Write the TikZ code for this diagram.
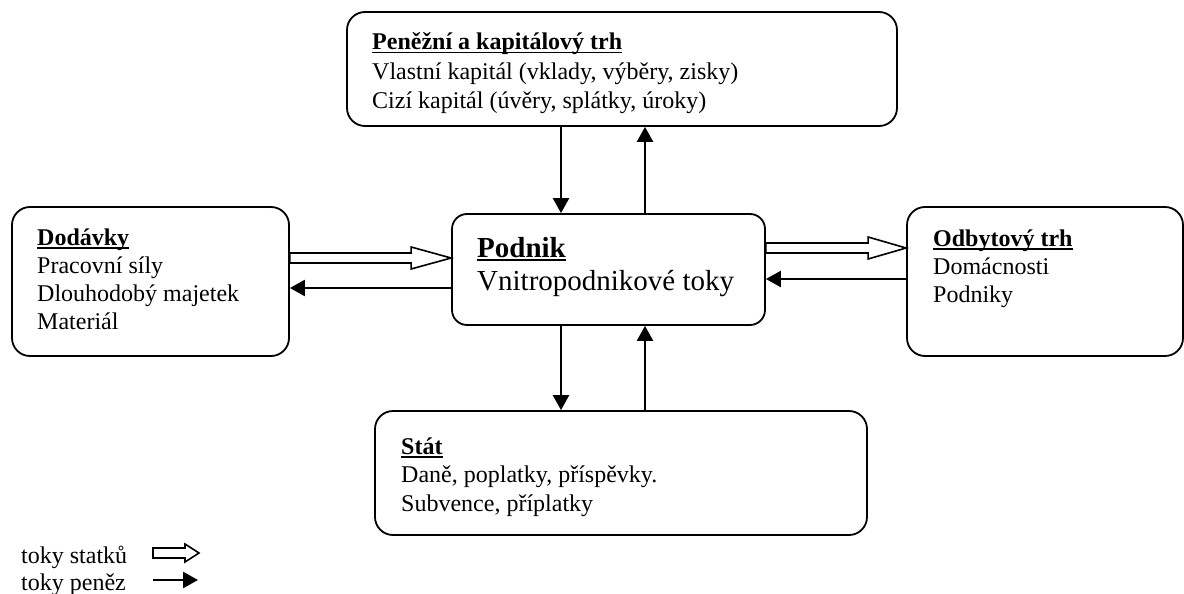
\documentclass[tikz,border=0pt]{standalone}
\usepackage{fontspec}
\setmainfont{Liberation Serif}
\usetikzlibrary{arrows.meta,calc}
% bold heading with a heavy underline
\newcommand\hlavicka[1]{\setbox0\hbox{\bfseries #1}\rlap{\rule[-3.5pt]{\wd0}{1.8pt}}\box0}
% stacked left-aligned lines, baseline at the first line
\newcommand\radky[1]{\begin{tabular}[t]{@{}l@{}}#1\end{tabular}}
\begin{document}
\begin{tikzpicture}[x=1pt,y=-1pt,
  box/.style 2 args={draw, line width=1.8pt, rounded corners=18pt, inner sep=0pt,
    minimum width=#1, minimum height=#2},
  txt/.style={anchor=base west, inner sep=0pt, font=\fontsize{24}{28}\selectfont},
  money/.style={line width=2.4pt, -{Triangle[length=15pt,width=16pt]}},
  % open block arrow: head length, head half-height, shaft half-height
  statek/.style n args={3}{line width=1.6pt, line join=miter, to path={
    -- ($(\tikztostart)+(0,#3)$) -- ($(\tikztotarget)+(-#1,#3)$)
    -- ($(\tikztotarget)+(-#1,#2)$) -- (\tikztotarget)
    -- ($(\tikztotarget)+(-#1,-#2)$) -- ($(\tikztotarget)+(-#1,-#3)$)
    -- ($(\tikztostart)+(0,-#3)$) -- cycle}}]
\useasboundingbox (0,0) rectangle (1184,594);

% boxes
\node[box={550pt}{114pt}] (trh) at (622,69) {};
\node[box={277pt}{149pt}] (dod) at (150.5,281.5) {};
\node[box={313pt}{111pt}, rounded corners=15pt] (podnik) at (608.5,269.5) {};
\node[box={276pt}{149pt}] (odbyt) at (1045,281.5) {};
\node[box={492pt}{124pt}] (stat) at (621,473) {};

% box texts
\node[txt, font=\fontsize{24}{29.5}\selectfont] (trhT) at (372,50)
  {\radky{\hlavicka{Peněžní a kapitálový trh}\\
  Vlastní kapitál (vklady, výběry, zisky)\\ Cizí kapitál (úvěry, splátky, úroky)}};
\node[txt] (dodT) at (37,245) {\radky{\hlavicka{Dodávky}\\ Pracovní síly\\
  Dlouhodobý majetek\\ Materiál}};
\node[txt, font=\fontsize{29}{33}\selectfont] (podnikT) at (477,257)
  {\radky{\hlavicka{Podnik}\\ Vnitropodnikové toky}};
\node[txt] (odbytT) at (933,246) {\radky{\hlavicka{Odbytový trh}\\ Domácnosti\\ Podniky}};
\node[txt, font=\fontsize{24}{28.5}\selectfont] (statT) at (401,454)
  {\radky{\hlavicka{Stát}\\ Daně, poplatky, příspěvky.\\ Subvence, příplatky}};

% guide coordinates for the connectors
\coordinate (xl) at (561,0);
\coordinate (xr) at (645,0);
\coordinate (yl1) at (0,258);
\coordinate (yl2) at (0,288);
\coordinate (yr1) at (0,248);
\coordinate (yr2) at (0,279);

% vertical money flows
\draw[money] (trh.south -| xl) -- (podnik.north -| xl);
\draw[money] (podnik.north -| xr) -- (trh.south -| xr);
\draw[money] (podnik.south -| xl) -- (stat.north -| xl);
\draw[money] (stat.north -| xr) -- (podnik.south -| xr);

% horizontal flows
\draw[statek={40}{11}{5}] (dod.east |- yl1) to (podnik.west |- yl1);
\draw[money] (podnik.west |- yl2) -- (dod.east |- yl2);
\draw[statek={38}{11}{5}] (podnik.east |- yr1) to (odbyt.west |- yr1);
\draw[money] (odbyt.west |- yr2) -- (podnik.east |- yr2);

% legend
\node[txt] (leg1) at (21,563) {toky statků};
\node[txt] (leg2) at (21,590) {toky peněz};
\coordinate (l1a) at (153,553);
\coordinate (l1b) at (199,553);
\coordinate (l2a) at (153,580);
\coordinate (l2b) at (198,580);
\draw[statek={14}{9}{5}] (l1a) to (l1b);
\draw[money] (l2a) -- (l2b);
\end{tikzpicture}
\end{document}
